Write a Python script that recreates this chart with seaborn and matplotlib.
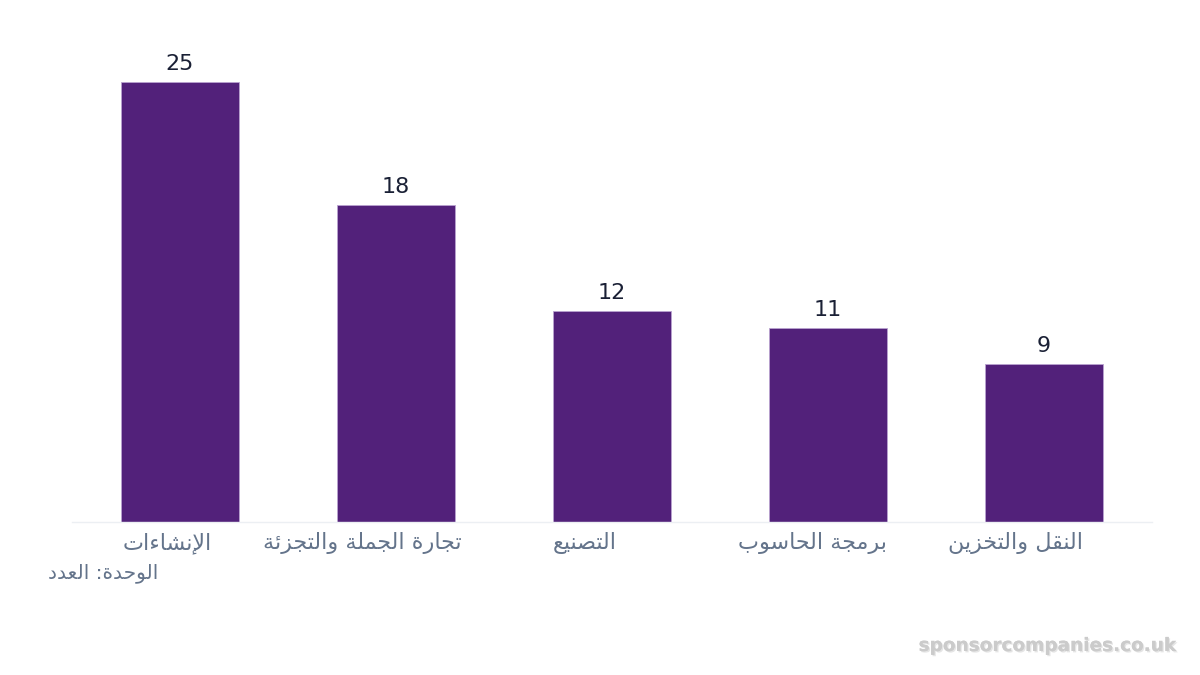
import matplotlib
matplotlib.use("Agg")
import matplotlib.pyplot as plt
import matplotlib.patheffects as pe
import matplotlib.transforms as mtrans
import seaborn as sns
import pandas as pd

sectors = ["الإنشاءات", "تجارة الجملة والتجزئة", "التصنيع", "برمجة الحاسوب", "النقل والتخزين"]
counts = [25, 18, 12, 11, 9]
unit_label = "الوحدة: العدد"
watermark = "sponsorcompanies.co.uk"

# contextual forms: (isolated, final, initial, medial); 2-form letters don't join to the next one
FORMS = {
    "ء": (0xFE80,), "آ": (0xFE81, 0xFE82), "أ": (0xFE83, 0xFE84), "ؤ": (0xFE85, 0xFE86),
    "إ": (0xFE87, 0xFE88), "ئ": (0xFE89, 0xFE8A, 0xFE8B, 0xFE8C), "ا": (0xFE8D, 0xFE8E),
    "ب": (0xFE8F, 0xFE90, 0xFE91, 0xFE92), "ة": (0xFE93, 0xFE94),
    "ت": (0xFE95, 0xFE96, 0xFE97, 0xFE98), "ث": (0xFE99, 0xFE9A, 0xFE9B, 0xFE9C),
    "ج": (0xFE9D, 0xFE9E, 0xFE9F, 0xFEA0), "ح": (0xFEA1, 0xFEA2, 0xFEA3, 0xFEA4),
    "خ": (0xFEA5, 0xFEA6, 0xFEA7, 0xFEA8), "د": (0xFEA9, 0xFEAA), "ذ": (0xFEAB, 0xFEAC),
    "ر": (0xFEAD, 0xFEAE), "ز": (0xFEAF, 0xFEB0), "س": (0xFEB1, 0xFEB2, 0xFEB3, 0xFEB4),
    "ش": (0xFEB5, 0xFEB6, 0xFEB7, 0xFEB8), "ص": (0xFEB9, 0xFEBA, 0xFEBB, 0xFEBC),
    "ض": (0xFEBD, 0xFEBE, 0xFEBF, 0xFEC0), "ط": (0xFEC1, 0xFEC2, 0xFEC3, 0xFEC4),
    "ظ": (0xFEC5, 0xFEC6, 0xFEC7, 0xFEC8), "ع": (0xFEC9, 0xFECA, 0xFECB, 0xFECC),
    "غ": (0xFECD, 0xFECE, 0xFECF, 0xFED0), "ف": (0xFED1, 0xFED2, 0xFED3, 0xFED4),
    "ق": (0xFED5, 0xFED6, 0xFED7, 0xFED8), "ك": (0xFED9, 0xFEDA, 0xFEDB, 0xFEDC),
    "ل": (0xFEDD, 0xFEDE, 0xFEDF, 0xFEE0), "م": (0xFEE1, 0xFEE2, 0xFEE3, 0xFEE4),
    "ن": (0xFEE5, 0xFEE6, 0xFEE7, 0xFEE8), "ه": (0xFEE9, 0xFEEA, 0xFEEB, 0xFEEC),
    "و": (0xFEED, 0xFEEE), "ى": (0xFEEF, 0xFEF0), "ي": (0xFEF1, 0xFEF2, 0xFEF3, 0xFEF4),
}
LAM_ALEF = {"ا": (0xFEFB, 0xFEFC), "أ": (0xFEF7, 0xFEF8), "إ": (0xFEF9, 0xFEFA), "آ": (0xFEF5, 0xFEF6)}


def shape_ar(text):
    # tiny arabic shaper: join letters, lam-alef ligature, then reverse for display
    chars = list(text)
    out = []
    i = 0
    while i < len(chars):
        c = chars[i]
        if c not in FORMS:
            out.append(c)
            i += 1
            continue
        prev = chars[i - 1] if i > 0 else None
        joins_prev = prev in FORMS and len(FORMS[prev]) == 4
        if c == "ل" and i + 1 < len(chars) and chars[i + 1] in LAM_ALEF:
            lig = LAM_ALEF[chars[i + 1]]
            out.append(chr(lig[1] if joins_prev else lig[0]))
            i += 2
            continue
        nxt = chars[i + 1] if i + 1 < len(chars) else None
        f = FORMS[c]
        joins_next = len(f) == 4 and nxt in FORMS
        if joins_prev and joins_next:
            g = f[3]
        elif joins_prev:
            g = f[1]
        elif joins_next:
            g = f[2]
        else:
            g = f[0]
        out.append(chr(g))
        i += 1
    return "".join(out)[::-1]


df = pd.DataFrame({"sector": [shape_ar(s) for s in sectors], "count": counts})

sns.set_theme(style="white")
plt.rcParams["font.family"] = ["DejaVu Sans"]

fig = plt.figure(figsize=(12, 6.75), dpi=100)
ax = fig.add_axes([0.06, 0.2267, 0.90, 0.717])

sns.barplot(data=df, x="sector", y="count", color="#52217a", width=0.55,
            edgecolor="#b9a3d0", linewidth=0.6, saturation=1, ax=ax)

for p, v in zip(ax.patches, counts):
    ax.text(p.get_x() + p.get_width() / 2, v + 0.45, str(v), ha="center", va="bottom",
            fontsize=16, color="#1a2035")

ax.set_xlim(-0.5, 4.5)
ax.set_ylim(0, 27.5)
ax.set_yticks([])
ax.set_xlabel("")
ax.set_ylabel("")
for s in ["top", "right", "left"]:
    ax.spines[s].set_visible(False)
ax.spines["bottom"].set_color("#eceff3")
ax.spines["bottom"].set_linewidth(1)
ax.tick_params(axis="x", length=0, pad=7.5, labelsize=16, labelcolor="#64748b")

# labels in the original sit a bit left of the bar centres
label_shift_px = [-13, -34, -27, -16, -29]
for lab, dx in zip(ax.get_xticklabels(), label_shift_px):
    lab.set_transform(lab.get_transform() + mtrans.ScaledTranslation(dx / 100, 0, fig.dpi_scale_trans))

fig.text(0.04, 0.151, shape_ar(unit_label), ha="left", va="center", fontsize=14.5, color="#64748b")
fig.text(0.98, 0.043, watermark, ha="right", va="center", fontsize=13.3, fontweight="bold",
         color="#cbcbcb",
         path_effects=[pe.withSimplePatchShadow(offset=(1, -1), shadow_rgbFace="#9a9a9a", alpha=0.25),
                       pe.Normal()])

fig.savefig("out.png", dpi=100, facecolor="white")
